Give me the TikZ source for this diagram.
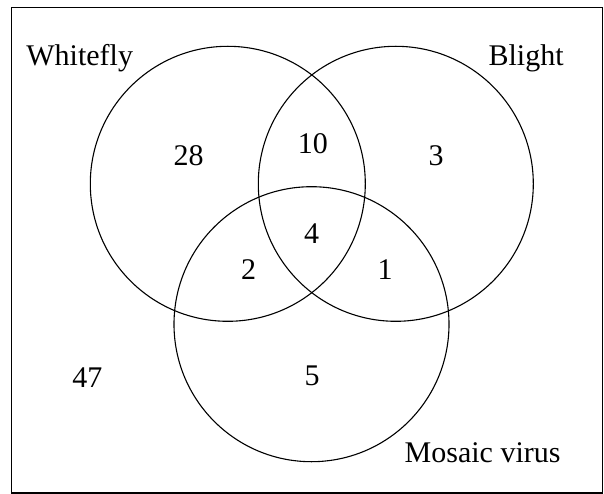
\documentclass[tikz,border=0pt]{standalone}
\usepackage{fontspec}
\setmainfont{Liberation Serif}
\begin{document}
\begin{tikzpicture}[x=1pt,y=-1pt,
  ring/.style={draw=black,line width=1.1pt},
  frame/.style={draw=black,line width=1.3pt},
  lbl/.style={inner sep=0pt,font=\fontsize{30}{36}\selectfont},
  num/.style={lbl,anchor=base}]
\useasboundingbox (0,0) rectangle (604,494);
\draw[frame] (11.5,7.5) rectangle (602.5,493);
\coordinate (cw) at (227.8,183.8);
\coordinate (cb) at (395.8,183.8);
\coordinate (cm) at (311.5,324.2);
\draw[ring] (cw) circle[radius=137.5];
\draw[ring] (cb) circle[radius=137.5];
\draw[ring] (cm) circle[radius=137.5];
\node[lbl,anchor=base west] (tw) at (26.2,65.3) {Whitefly};
\node[lbl,anchor=base west] (tb) at (488.4,65.7) {Blight};
\node[lbl,anchor=base west] (tm) at (404.5,462) {Mosaic virus};
\node[num] (n28) at (188.7,165.7) {28};
\node[num] (n10) at (312.8,153.3) {10};
\node[num] (n3) at (436,165.7) {3};
\node[num] (n4) at (311.6,243) {4};
\node[num] (n2) at (248.5,279.7) {2};
\node[num] (n1) at (385,279.7) {1};
\node[num] (n47) at (87.3,387) {47};
\node[num] (n5) at (312,385) {5};
\end{tikzpicture}
\end{document}
